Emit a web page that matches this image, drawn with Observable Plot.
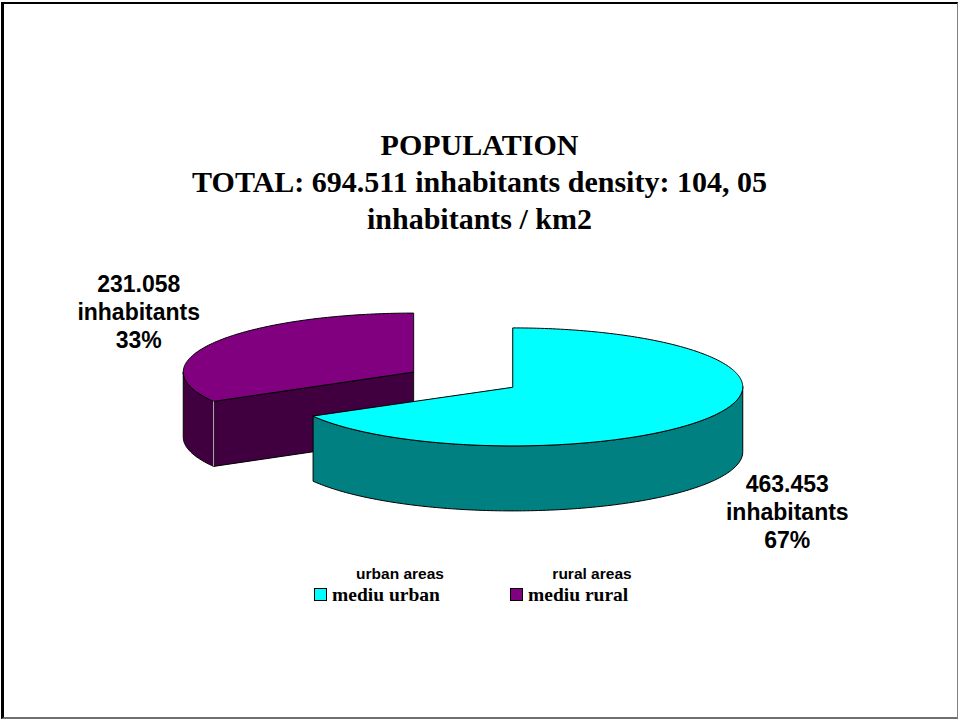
<!DOCTYPE html>
<html><head><meta charset="utf-8">
<script src="https://cdn.jsdelivr.net/npm/d3@7"></script>
<script src="https://cdn.jsdelivr.net/npm/@observablehq/plot@0.6"></script>
<style>
html,body{margin:0;padding:0;background:#fff;width:959px;height:720px;overflow:hidden;}
#page{position:absolute;left:1px;top:2px;width:957px;height:717px;box-sizing:border-box;border-left:3px solid #000;border-top:2px solid #000;border-right:1px solid #808080;border-bottom:2px solid #707070;}
#title{position:absolute;left:0;top:126px;width:959px;text-align:center;font-family:"Liberation Serif","Times New Roman",serif;font-weight:bold;font-size:30px;line-height:37px;color:#000;}
#chart{position:absolute;left:0;top:240px;}
.en{position:absolute;font-family:"Liberation Sans",Arial,sans-serif;font-weight:bold;font-size:15.5px;line-height:15.5px;color:#000;white-space:nowrap;transform:translateX(-50%);}
.ro{position:absolute;font-family:"Liberation Serif","Times New Roman",serif;font-weight:bold;font-size:19.5px;line-height:19.5px;color:#000;white-space:nowrap;}
.sw{position:absolute;width:11px;height:11px;border:1px solid #000;}
</style>
</head><body>
<div id="page"></div>
<div id="title"></div>
<div id="chart"></div>
<div id="legend"></div>
<script>
// ---- data ----
const titleLines = ["POPULATION", "TOTAL: 694.511 inhabitants density: 104, 05", "inhabitants / km2"];
const categories = ["mediu urban", "mediu rural"];
const categoriesEn = ["urban areas", "rural areas"];
const values = [463453, 231058];
const valueLabels = ["463.453", "231.058"];
const percentLabels = ["67%", "33%"];
const unitWord = "inhabitants";

// ---- styles ----
const topColors = ["#00ffff", "#800080"];
const sideColors = ["#008080", "#400040"];

// ---- layout ----
const W = 959, TOP = 240, H = 320;
const pie = {cx: 462.5, cy: 379, rx: 230, ry: 59, depth: 65, explode: 0.25};

document.getElementById("title").innerHTML = titleLines.join("<br>");

const total = d3.sum(values);
let acc = 0;
const slices = values.map((v, i) => {
  const a0 = acc / total * 2 * Math.PI; acc += v;
  const a1 = acc / total * 2 * Math.PI;
  const mid = (a0 + a1) / 2;
  return {i, a0, a1, mid,
    cx: pie.cx + pie.explode * pie.rx * Math.sin(mid),
    cy: pie.cy - pie.explode * pie.ry * Math.cos(mid)};
});
const pt = (s, a, dz = 0) => ({x: s.cx + pie.rx * Math.sin(a), y: s.cy - pie.ry * Math.cos(a) + dz});
function arc(s, a0, a1, dz) {
  const n = Math.max(2, Math.ceil((a1 - a0) / (Math.PI / 180)));
  return d3.range(n + 1).map(k => pt(s, a0 + (a1 - a0) * k / n, dz));
}
const marks = [];
const edges = [];
const order = slices.slice().sort((a, b) => a.cy - b.cy);
for (const s of order) {
  const c = {x: s.cx, y: s.cy}, cb = {x: s.cx, y: s.cy + pie.depth};
  // cut faces
  if (Math.sin(s.a0) < -1e-6) {
    const p = pt(s, s.a0), pb = pt(s, s.a0, pie.depth);
    marks.push(Plot.line([c, p, pb, cb], {x: "x", y: "y", fill: sideColors[s.i], stroke: "#000", strokeWidth: 1, curve: "linear-closed"}));
    edges.push({x1: p.x, y1: p.y, x2: pb.x, y2: pb.y});
  }
  if (Math.sin(s.a1) > 1e-6) {
    const p = pt(s, s.a1), pb = pt(s, s.a1, pie.depth);
    marks.push(Plot.line([c, p, pb, cb], {x: "x", y: "y", fill: sideColors[s.i], stroke: "#000", strokeWidth: 1, curve: "linear-closed"}));
    edges.push({x1: p.x, y1: p.y, x2: pb.x, y2: pb.y});
  }
  // outer side (front half only)
  const lo = Math.max(s.a0, Math.PI / 2), hi = Math.min(s.a1, 3 * Math.PI / 2);
  if (hi > lo) {
    const poly = arc(s, lo, hi, 0).concat(arc(s, lo, hi, pie.depth).reverse());
    marks.push(Plot.line(poly, {x: "x", y: "y", fill: sideColors[s.i], stroke: "#000", strokeWidth: 1, curve: "linear-closed"}));
  }
  // top face
  marks.push(Plot.line([c].concat(arc(s, s.a0, s.a1, 0)), {x: "x", y: "y", fill: topColors[s.i], stroke: "#000", strokeWidth: 1, curve: "linear-closed"}));
  marks.push(Plot.link(edges.splice(0), {x1: "x1", y1: "y1", x2: "x2", y2: "y2", stroke: "#b8b8b8", strokeWidth: 1}));
}
// data labels
marks.push(Plot.text(slices, {
  x: s => s.cx + 1.38 * pie.rx * Math.sin(s.mid),
  y: s => s.cy - 2.0 * pie.ry * Math.cos(s.mid) + (Math.cos(s.mid) < 0 ? pie.depth : -2),
  text: s => `${valueLabels[s.i]}\n${unitWord}\n${percentLabels[s.i]}`,
  fontSize: 23, fontWeight: "bold", fontFamily: "Liberation Sans, Arial, sans-serif",
  lineHeight: 28 / 23, textAnchor: "middle", fill: "#000"
}));

const svg = Plot.plot({
  width: W, height: H, margin: 0,
  x: {domain: [0, W], range: [0, W], axis: null},
  y: {domain: [TOP, TOP + H], range: [0, H], axis: null},
  style: {background: "transparent", overflow: "visible"},
  marks
});
document.getElementById("chart").appendChild(svg);

// legend
const leg = document.getElementById("legend");
const legX = [314, 510];
const enOffset = [86, 82];
categories.forEach((cat, i) => {
  const en = document.createElement("div");
  en.className = "en"; en.textContent = categoriesEn[i];
  en.style.left = (legX[i] + enOffset[i]) + "px"; en.style.top = "566px";
  leg.appendChild(en);
  const sw = document.createElement("div");
  sw.className = "sw"; sw.style.background = topColors[i];
  sw.style.left = legX[i] + "px"; sw.style.top = "588px";
  leg.appendChild(sw);
  const ro = document.createElement("div");
  ro.className = "ro"; ro.textContent = cat;
  ro.style.left = (legX[i] + 18) + "px"; ro.style.top = "585px";
  leg.appendChild(ro);
});
</script>
</body></html>
